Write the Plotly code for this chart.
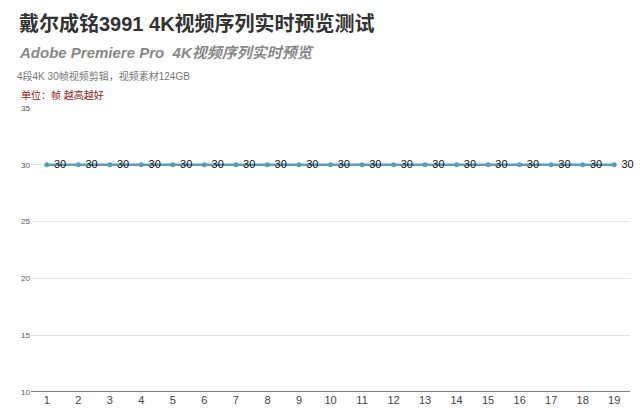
import plotly.graph_objects as go

runs = [str(i) for i in range(1, 20)]
fps = [30] * 19
y_ticks = [10, 15, 20, 25, 30, 35]

title = "戴尔成铭3991 4K视频序列实时预览测试"
subtitle = "Adobe Premiere Pro  4K视频序列实时预览"
note = "4段4K 30帧视频剪辑，视频素材124GB"
unit = "单位：帧 越高越好"

fig = go.Figure()
fig.add_trace(go.Scatter(
    x=runs, y=fps, mode="lines+markers+text",
    text=[" " + str(v) for v in fps], textposition="middle right",
    textfont=dict(size=11, color="#111111", family="Liberation Sans, Arial"),
    line=dict(color="#5b9fb3", width=2.5),
    marker=dict(color="#5b9fb3", size=5),
    cliponaxis=False, showlegend=False,
))

top, bottom = 108, 392
def py(px):
    return (bottom - px) / (bottom - top)

font = "Liberation Sans, Noto Sans CJK SC, Arial"
fig.add_annotation(text="<b>" + title + "</b>", x=0, xref="paper", xshift=-31 + 17,
                   y=py(23), yref="paper", xanchor="left", yanchor="middle",
                   showarrow=False, font=dict(size=20, color="#333333", family=font))
fig.add_annotation(text="<b><i>" + subtitle + "</i></b>", x=0, xref="paper", xshift=-31 + 17,
                   y=py(53), yref="paper", xanchor="left", yanchor="middle",
                   showarrow=False, font=dict(size=15, color="#888888", family=font))
fig.add_annotation(text=note, x=0, xref="paper", xshift=-31 + 15,
                   y=py(76), yref="paper", xanchor="left", yanchor="middle",
                   showarrow=False, font=dict(size=10, color="#777777", family=font))
fig.add_annotation(text=unit, x=0, xref="paper", xshift=-31 + 19,
                   y=py(95), yref="paper", xanchor="left", yanchor="middle",
                   showarrow=False, font=dict(size=10, color="#8b1a1a", family=font))

fig.update_layout(
    width=640, height=411,
    margin=dict(l=31, r=10, t=top, b=411 - bottom),
    plot_bgcolor="white", paper_bgcolor="white",
    xaxis=dict(type="category", range=[-0.5, 18.5], showgrid=False, automargin=False,
               showline=False, ticks="",
               tickfont=dict(size=11, color="#444444", family="Liberation Sans, Arial")),
    yaxis=dict(range=[10, 35], tickvals=y_ticks, showgrid=True, gridcolor="#e3e3e3",
               zeroline=False, showline=False, ticks="", automargin=False,
               tickfont=dict(size=8, color="#555555", family="Liberation Sans, Arial")),
)
fig.add_hline(y=10, line=dict(color="#555555", width=1.5))

fig.write_html("out.html", config={"displayModeBar": False},
               post_script="document.body.style.margin='0';")
